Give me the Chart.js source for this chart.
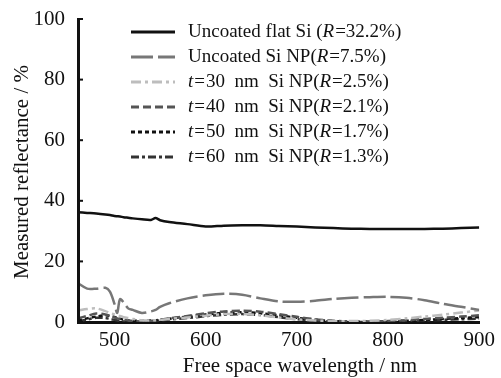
<!DOCTYPE html>
<html>
<head>
<meta charset="utf-8">
<script src="https://cdn.jsdelivr.net/npm/chart.js"></script>
<style>
  html, body { margin: 0; padding: 0; background: #fff; }
  #wrap { width: 501px; height: 378px; }
</style>
</head>
<body>
<div id="wrap"><canvas id="refl-chart" width="501" height="378"></canvas></div>
<script>
// wavelength grid (nm)
var wavelength = [460,470,480,490,495,500,503,506,510,515,520,530,540,545,550,560,580,600,620,640,660,680,700,720,740,760,780,800,820,840,860,880,900];

var flatSi  = [36.2,36,35.8,35.5,35.3,35,34.9,34.8,34.6,34.4,34.2,33.9,33.7,34.3,33.6,33,32.3,31.5,31.8,31.9,31.9,31.7,31.5,31.2,31,30.8,30.7,30.7,30.7,30.7,30.8,31,31.2];
var uncNP   = [12.8,11,11,11.3,10,6,3,7.5,6.5,4.5,4,3,3.5,4,5,6.2,7.8,8.8,9.3,9,7.8,6.8,6.7,7,7.6,8,8.2,8.3,8,7.2,6,5,4];
var t30     = [3.8,4.3,4.5,3.6,3,2.5,2.2,2,1.6,1.3,1,0.6,0.5,0.6,0.7,1,1.5,2.1,2.6,2.7,2.2,1.5,0.9,0.5,0.3,0.3,0.4,0.7,1.2,1.8,2.4,3.1,3.8];
var t40     = [1.2,2,2.8,2.5,2,1.5,1.2,1,0.8,0.5,0.3,0.2,0.3,0.5,0.7,1.2,2,2.9,3.5,3.7,3.4,2.6,1.7,0.9,0.4,0.2,0.2,0.3,0.6,1,1.4,1.8,2.2];
var t50     = [0.6,1.2,1.8,2.2,2,1.7,1.4,1.1,0.8,0.5,0.4,0.4,0.5,0.6,0.8,1.1,1.8,2.5,3,3.2,2.9,2.2,1.4,0.7,0.3,0.1,0.1,0.2,0.4,0.7,1,1.3,1.6];
var t60     = [0.2,0.8,1.4,1.3,1,0.7,0.5,0.3,0.2,0.1,0.1,0.2,0.3,0.4,0.5,0.8,1.3,1.9,2.4,2.6,2.3,1.6,0.9,0.4,0.1,0,0,0.1,0.3,0.5,0.7,0.9,1.1];

var xTicks = [500, 600, 700, 800, 900];
var yTicks = [0, 20, 40, 60, 80, 100];

// legend text: [prefix (italic t or none), middle, R value]
var legendItems = [
  { pre: '', mid: 'Uncoated flat Si ', r: '32.2%' },
  { pre: '', mid: 'Uncoated Si NP', r: '7.5%' },
  { pre: 't', mid: '30  nm  Si NP', r: '2.5%' },
  { pre: 't', mid: '40  nm  Si NP', r: '2.1%' },
  { pre: 't', mid: '50  nm  Si NP', r: '1.7%' },
  { pre: 't', mid: '60  nm  Si NP', r: '1.3%' }
];

function pts(arr) {
  return arr.map(function (v, i) { return { x: wavelength[i], y: v }; });
}

var serif = '"Liberation Serif", "DejaVu Serif", serif';

var datasets = [
  { data: pts(flatSi), borderColor: '#111', borderWidth: 2.5, borderDash: [] },
  { data: pts(uncNP),  borderColor: '#777', borderWidth: 2.5, borderDash: [22, 5] },
  { data: pts(t30),    borderColor: '#bdbdbd', borderWidth: 2.5, borderDash: [10, 4, 3, 4] },
  { data: pts(t40),    borderColor: '#555', borderWidth: 2.5, borderDash: [8, 4] },
  { data: pts(t50),    borderColor: '#111', borderWidth: 2.5, borderDash: [4, 3] },
  { data: pts(t60),    borderColor: '#333', borderWidth: 2.5, borderDash: [8, 3, 3, 3] }
];
datasets.forEach(function (d) {
  d.pointRadius = 0;
  d.tension = 0.3;
  d.fill = false;
});

var decor = {
  id: 'decor',
  afterDraw: function (chart) {
    var c = chart.ctx;
    var ca = chart.chartArea;
    var ys = chart.scales.y;
    var top = ys.getPixelForValue(100);
    c.save();
    c.setLineDash([]);
    // y axis line and inward ticks
    c.fillStyle = '#111';
    c.fillRect(ca.left - 1, top - 1, 3, ca.bottom - top + 2);
    yTicks.forEach(function (v) {
      var y = ys.getPixelForValue(v);
      c.fillRect(ca.left, y - 1, 5, 2);
    });

    // axis titles
    c.font = '21px ' + serif;
    c.textAlign = 'center';
    c.textBaseline = 'middle';
    c.fillText('Free space wavelength / nm', 300, 366);
    c.translate(22, 172);
    c.rotate(-Math.PI / 2);
    c.fillText('Measured reflectance / %', 0, 0);
    c.restore();

    // legend
    c.save();
    c.textBaseline = 'middle';
    c.textAlign = 'left';
    var x0 = 131, x1 = 175, tx = 188, y0 = 32, dy = 25;
    legendItems.forEach(function (it, i) {
      var ds = chart.data.datasets[i];
      var y = y0 + i * dy;
      c.strokeStyle = ds.borderColor;
      c.lineWidth = 3;
      c.setLineDash(ds.borderDash);
      c.beginPath();
      c.moveTo(x0, y);
      c.lineTo(x1, y);
      c.stroke();
      c.setLineDash([]);
      c.fillStyle = '#111';
      var x = tx;
      if (it.pre) {
        c.font = 'italic 19px ' + serif;
        c.fillText(it.pre, x, y);
        x += c.measureText(it.pre).width + 1;
        c.font = '19px ' + serif;
        c.fillText('=', x, y);
        x += c.measureText('=').width + 1;
      }
      c.font = '19px ' + serif;
      c.fillText(it.mid + '(', x, y);
      x += c.measureText(it.mid + '(').width;
      c.font = 'italic 19px ' + serif;
      c.fillText('R', x, y);
      x += c.measureText('R').width + 1;
      c.font = '19px ' + serif;
      c.fillText('=' + it.r + ')', x, y);
    });
    c.restore();
  }
};

var ctx = document.getElementById('refl-chart').getContext('2d');
var reflChart = new Chart(ctx, {
  type: 'line',
  data: { datasets: datasets },
  plugins: [decor],
  options: {
    responsive: false,
    animation: false,
    events: [],
    layout: { padding: { top: 19, right: 17, left: 0, bottom: 0 } },
    plugins: { legend: { display: false }, tooltip: { enabled: false } },
    scales: {
      x: {
        type: 'linear',
        min: 460,
        max: 900,
        afterBuildTicks: function (s) { s.ticks = xTicks.map(function (v) { return { value: v }; }); },
        afterFit: function (s) { s.height = 56; },
        grid: { display: true, drawOnChartArea: false, drawTicks: false },
        border: { display: true, color: '#111', width: 3 },
        ticks: { color: '#111', padding: 6, maxRotation: 0, font: { family: serif, size: 21 } }
      },
      y: {
        min: 0,
        max: 100,
        afterBuildTicks: function (s) { s.ticks = yTicks.map(function (v) { return { value: v }; }); },
        afterFit: function (s) { s.width = 78; },
        grid: { display: false },
        border: { display: false },
        ticks: { color: '#111', padding: 5, font: { family: serif, size: 21 } }
      }
    }
  }
});
</script>
</body>
</html>
